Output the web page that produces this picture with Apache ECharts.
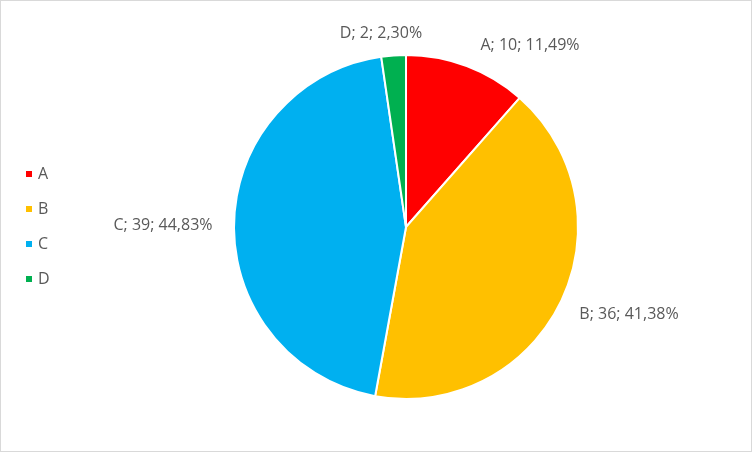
<!DOCTYPE html>
<html lang="en">
  <head>
    <meta charset="UTF-8" />
    <title>Pie chart A B C D</title>
    <script src="https://cdn.jsdelivr.net/npm/echarts@6/dist/echarts.min.js"></script>
    <style>
      html, body { margin: 0; padding: 0; background: #fff; }
      #chart { width: 752px; height: 452px; box-sizing: border-box; border: 1px solid #d9d9d9; }
    </style>
  </head>
  <body>
    <div id="chart"></div>
    <script>
      // 数据
      const categories = ["A", "B", "C", "D"];
      const values = [10, 36, 39, 2];
      const percents = ["11,49%", "41,38%", "44,83%", "2,30%"];
      const colors = ["#FF0000", "#FFC000", "#00B0F0", "#00B050"];

      // label centre points (layout only)
      const labelPos = [
        [529, 44],
        [628, 313],
        [162, 224],
        [380, 32],
      ];

      var chart = echarts.init(document.getElementById("chart"));
      var option = {
        animation: false,
        color: colors,
        textStyle: { fontFamily: "Open Sans", color: "#595959" },
        legend: {
          orient: "vertical",
          left: 18,
          top: 160,
          itemWidth: 8,
          itemHeight: 8,
          itemGap: 19,
          icon: "rect",
          data: categories,
          textStyle: { fontSize: 16, lineHeight: 16, color: "#595959", fontFamily: "Open Sans" },
        },
        series: [
          {
            type: "pie",
            center: [405, 226],
            radius: 172,
            startAngle: 90,
            clockwise: true,
            itemStyle: { borderColor: "#fff", borderWidth: 2 },
            label: {
              show: true,
              position: "outside",
              fontSize: 16,
              color: "#595959",
              fontFamily: "Open Sans",
              formatter: function (p) {
                return p.name + "; " + p.value + "; " + percents[p.dataIndex];
              },
            },
            labelLine: { show: false },
            labelLayout: function (params) {
              const pos = labelPos[params.dataIndex];
              return { x: pos[0], y: pos[1], align: "center", verticalAlign: "middle" };
            },
            data: categories.map((c, i) => ({ name: c, value: values[i] })),
          },
        ],
      };
      option && chart.setOption(option);
    </script>
  </body>
</html>
